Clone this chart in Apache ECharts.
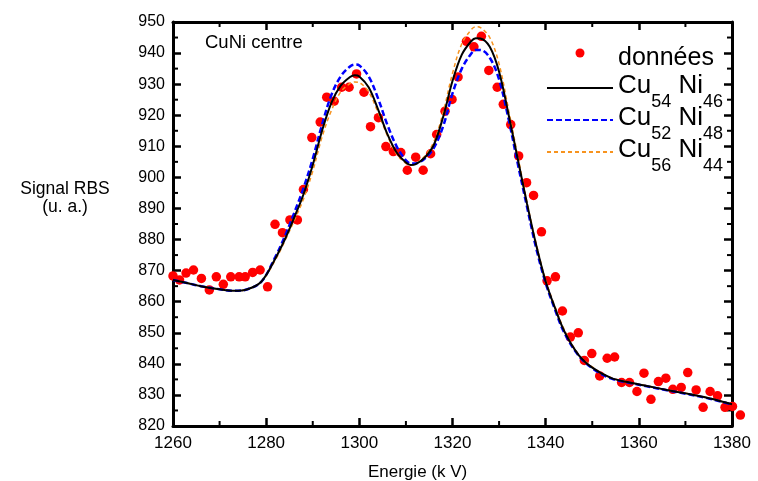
<!DOCTYPE html>
<html>
<head>
<meta charset="utf-8">
<script src="https://cdn.jsdelivr.net/npm/echarts@6/dist/echarts.min.js"></script>
<style>html,body{margin:0;padding:0;background:#fff}#c{width:758px;height:481px}</style>
</head>
<body>
<div id="c"></div>
<script>
// ---- data ----
const xTicks = [1260, 1280, 1300, 1320, 1340, 1360, 1380];
const yTicks = [820, 830, 840, 850, 860, 870, 880, 890, 900, 910, 920, 930, 940, 950];
const xMinorTicks = [1270, 1290, 1310, 1330, 1350, 1370];
const yMinorTicks = [825, 835, 845, 855, 865, 875, 885, 895, 905, 915, 925, 935, 945];

const dataX = [1260.0,1261.4,1262.8,1264.4,1266.1,1267.8,1269.3,1270.8,1272.4,1274.2,
  1275.5,1277.1,1278.7,1280.3,1281.9,1283.5,1285.1,1286.7,1288.0,1289.8,
  1291.6,1293.0,1294.6,1296.2,1297.8,1299.4,1301.0,1302.4,1304.1,1305.7,
  1307.3,1308.9,1310.3,1312.1,1313.7,1315.3,1316.6,1318.4,1319.9,1321.2,
  1323.0,1324.6,1326.2,1327.8,1329.6,1330.9,1332.5,1334.2,1335.9,1337.4,
  1339.1,1340.3,1342.1,1343.6,1345.3,1347.0,1348.3,1349.9,1351.6,1353.2,
  1354.8,1356.3,1358.0,1359.6,1361.1,1362.6,1364.2,1365.8,1367.3,1369.1,
  1370.5,1372.3,1373.8,1375.3,1376.9,1378.5,1380.1,1381.8];
const dataY = [868.3,867.0,869.2,870.2,867.5,863.8,868.0,865.6,868.0,868.0,
  868.0,869.4,870.2,864.8,884.9,882.2,886.3,886.3,896.1,912.8,
  917.8,925.8,924.5,929.0,929.0,933.3,927.4,916.3,919.2,909.9,
  908.3,908.0,902.3,906.5,902.3,907.6,913.8,921.3,925.1,932.3,
  943.8,942.0,945.4,934.4,929.0,923.5,917.0,906.9,898.3,894.2,
  882.5,866.7,868.0,857.0,848.6,850.0,841.1,843.3,836.1,841.8,
  842.2,834.0,834.0,831.1,837.0,828.6,834.3,835.4,831.8,832.4,
  837.2,831.6,826.0,831.1,829.7,826.0,826.3,823.5];

const energy = [1260,1263,1266,1270,1273,1276,1279,1282,1284,1286,
  1288,1290,1292,1294,1296,1298,1299,1300,1302,1304,
  1306,1308,1310,1311,1312,1314,1316,1318,1320,1322,
  1324,1325,1326,1328,1330,1332,1334,1336,1338,1340,
  1342,1344,1347,1350,1354,1358,1362,1366,1370,1374,
  1378,1380];
const cu54ni46 = [867.0,866.0,865.0,864.0,863.5,864.0,866.5,874.0,880.0,887.0,
  894.5,904.0,915.0,924.0,929.5,932.3,932.9,932.5,929.0,922.0,
  914.0,908.0,904.8,904.0,904.2,906.3,910.5,919.5,931.0,939.5,
  943.8,944.8,944.7,942.0,934.0,920.5,906.0,891.5,878.0,866.5,
  858.0,850.5,843.0,838.8,835.5,834.0,832.8,831.6,830.5,829.3,
  827.8,827.0];
const cu52ni48 = [867.0,866.0,865.0,864.0,863.5,864.0,866.5,874.5,881.0,888.5,
  896.5,906.0,917.0,926.5,932.5,935.7,936.3,936.0,932.5,925.5,
  917.0,910.0,905.5,904.5,904.5,906.0,909.5,916.5,927.0,935.0,
  939.8,941.0,941.0,938.5,931.5,919.0,904.5,890.5,877.0,866.0,
  857.5,850.0,842.8,838.6,835.3,833.9,832.7,831.5,830.4,829.2,
  827.7,826.9];
const cu56ni44 = [867.0,866.0,865.0,864.0,863.5,864.0,866.5,873.5,879.5,886.0,
  893.0,902.0,913.0,921.5,927.5,930.2,930.7,930.5,927.5,921.0,
  913.5,907.5,904.5,904.0,904.3,906.8,911.5,921.0,933.5,943.0,
  947.5,948.5,948.2,945.0,936.5,922.0,907.0,892.0,878.5,867.0,
  858.5,851.0,843.2,839.0,835.6,834.1,832.9,831.7,830.6,829.4,
  827.9,827.1];

const names = ['données', 'Cu54Ni46', 'Cu52Ni48', 'Cu56Ni44'];
const legendSubs = { 'Cu54Ni46': ['54', '46'], 'Cu52Ni48': ['52', '48'], 'Cu56Ni44': ['56', '44'] };

// ---- chart ----
const FONT = '"Liberation Sans", Arial, sans-serif';
const pair = (xs, ys) => xs.map((x, i) => [x, ys[i]]);
const chart = echarts.init(document.getElementById('c'), null, { renderer: 'canvas' });
const X0 = xTicks[0], X1 = xTicks[xTicks.length - 1];
const Y0 = yTicks[0], Y1 = yTicks[yTicks.length - 1];
const MINOR_LEN = 5;

function axisParts() {
  return {
    axisLine: { show: true, onZero: false, lineStyle: { color: '#000', width: 3 } },
    axisTick: { show: true, inside: true, length: 8, lineStyle: { color: '#000', width: 2.5 } },
    splitLine: { show: false }
  };
}

function tickLine(x1, y1, x2, y2) {
  return { type: 'line', shape: { x1, y1, x2, y2 }, style: { stroke: '#000', lineWidth: 2 } };
}
function renderMinorX(params, api) {
  const b = api.coord([api.value(0), Y0]);
  const t = api.coord([api.value(0), Y1]);
  return { type: 'group', children: [
    tickLine(b[0], b[1], b[0], b[1] - MINOR_LEN),
    tickLine(t[0], t[1], t[0], t[1] + MINOR_LEN)
  ] };
}
function renderMinorY(params, api) {
  const l = api.coord([X0, api.value(1)]);
  const r = api.coord([X1, api.value(1)]);
  return { type: 'group', children: [
    tickLine(l[0], l[1], l[0] + MINOR_LEN, l[1]),
    tickLine(r[0], r[1], r[0] - MINOR_LEN, r[1])
  ] };
}

chart.setOption({
  animation: false,
  backgroundColor: '#fff',
  textStyle: { fontFamily: FONT },
  grid: { left: 173, right: 26, top: 22, bottom: 55, containLabel: false },
  xAxis: [
    Object.assign({ type: 'value', min: X0, max: X1, interval: 20, position: 'bottom',
      axisLabel: { show: true, color: '#000', fontSize: 17, margin: 9, fontFamily: FONT, formatter: v => String(v) } }, axisParts()),
    Object.assign({ type: 'value', min: X0, max: X1, interval: 20, position: 'top',
      axisLabel: { show: false } }, axisParts())
  ],
  yAxis: [
    Object.assign({ type: 'value', min: Y0, max: Y1, interval: 10, position: 'left',
      axisLabel: { show: true, color: '#000', fontSize: 16, margin: 8, fontFamily: FONT, formatter: v => String(v) } }, axisParts()),
    Object.assign({ type: 'value', min: Y0, max: Y1, interval: 10, position: 'right',
      axisLabel: { show: false } }, axisParts())
  ],
  legend: {
    data: [
      { name: names[0] },
      { name: names[1], itemStyle: { opacity: 0 } },
      { name: names[2], itemStyle: { opacity: 0 } },
      { name: names[3], itemStyle: { opacity: 0 } }
    ],
    orient: 'vertical',
    left: 541, top: 33,
    itemWidth: 66, itemHeight: 9, itemGap: -6,
    selectedMode: false,
    textStyle: {
      color: '#000', fontFamily: FONT,
      rich: {
        d: { fontSize: 25, lineHeight: 30, verticalAlign: 'top', padding: [8, 0, 0, 0], fontFamily: FONT, color: '#000' },
        m: { fontSize: 26, lineHeight: 30, verticalAlign: 'top', fontFamily: FONT, color: '#000' },
        s: { fontSize: 18, lineHeight: 10, verticalAlign: 'top', padding: [20, 0, 0, 0], fontFamily: FONT, color: '#000' },
        e: { fontSize: 18, lineHeight: 10, verticalAlign: 'top', padding: [23, 0, 0, 0], fontFamily: FONT, color: '#000' }
      }
    },
    formatter: function (n) {
      if (legendSubs[n]) {
        const s = legendSubs[n];
        return '{m|Cu}{s|' + s[0] + '}{m| Ni}{s|' + s[1] + '}';
      }
      return '{d|' + n + '}{e| }';
    }
  },
  graphic: [
    { type: 'text', x: 205, y: 33, style: { text: 'CuNi centre', font: '18.5px ' + FONT, fill: '#000' } },
    { type: 'text', x: 65, y: 180, style: { text: 'Signal RBS\n(u. a.)', font: '17.5px ' + FONT, fill: '#000',
      textAlign: 'center', lineHeight: 18 } },
    { type: 'text', x: 368, y: 464, style: { text: 'Energie (k V)', font: '17px ' + FONT, fill: '#000' } }
  ],
  series: [
    { name: 'xMinor', type: 'custom', data: xMinorTicks.map(v => [v, Y0]), renderItem: renderMinorX,
      clip: false, silent: true, z: 1 },
    { name: 'yMinor', type: 'custom', data: yMinorTicks.map(v => [X0, v]), renderItem: renderMinorY,
      clip: false, silent: true, z: 1 },
    { name: 'données', type: 'scatter', data: pair(dataX, dataY), symbol: 'circle', symbolSize: 9.5,
      itemStyle: { color: '#ff0000', opacity: 1 }, clip: false, z: 2 },
    { name: 'Cu54Ni46', type: 'line', data: pair(energy, cu54ni46), showSymbol: false, symbol: 'none',
      smooth: 0.35, lineStyle: { color: '#000000', width: 2, type: 'solid' }, itemStyle: { color: '#000' }, z: 5 },
    { name: 'Cu52Ni48', type: 'line', data: pair(energy, cu52ni48), showSymbol: false, symbol: 'none',
      smooth: 0.35, lineStyle: { color: '#0000ff', width: 2.5, type: [6, 3] }, itemStyle: { color: '#0000ff' }, z: 4 },
    { name: 'Cu56Ni44', type: 'line', data: pair(energy, cu56ni44), showSymbol: false, symbol: 'none',
      smooth: 0.35, lineStyle: { color: '#f7931e', width: 1.5, type: [4, 3] }, itemStyle: { color: '#f7931e' }, z: 3 }
  ]
});
</script>
</body>
</html>
